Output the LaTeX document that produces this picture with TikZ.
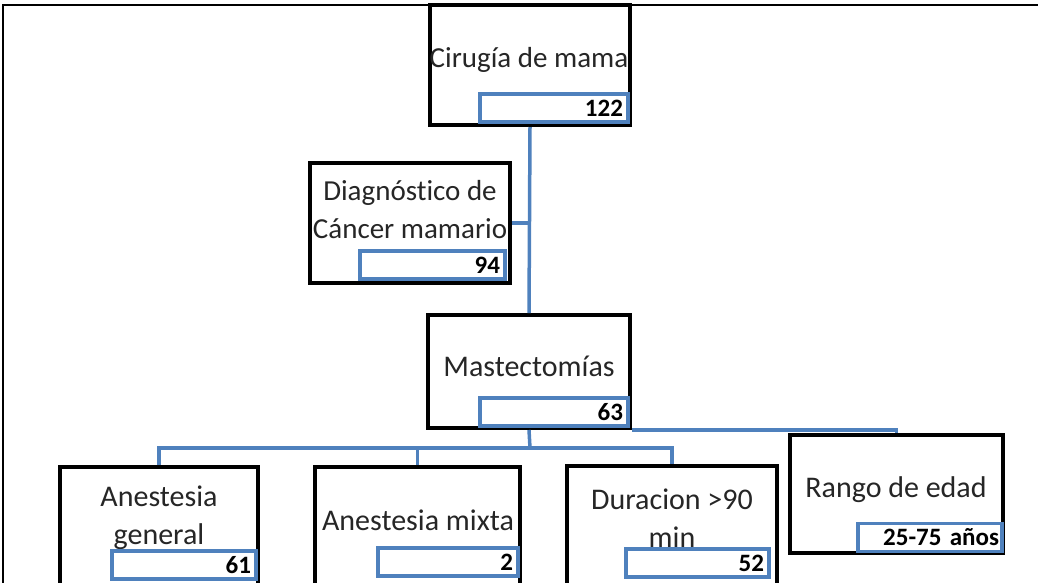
\documentclass[tikz,border=0pt]{standalone}
\usepackage{fontspec}
\setmainfont{Carlito}[Ligatures=NoCommon]
\definecolor{obl}{HTML}{4F81BD}
\begin{document}
\begin{tikzpicture}[x=1pt,y=-1pt,
  box/.style={draw=black,line width=4pt,fill=white,rectangle,inner sep=0pt},
  numbox/.style={draw=obl,line width=3.5pt,fill=white,rectangle,inner xsep=5pt,inner ysep=0pt,
     minimum height=28pt,align=right,font=\fontsize{25}{26}\selectfont\bfseries},
  lbl/.style={align=center,inner sep=0pt,font=\fontsize{30}{38}\selectfont,text=black!85},
  lbls/.style={lbl,font=\fontsize{29}{38}\selectfont},
  conn/.style={draw=obl,line width=3.5pt}]
\useasboundingbox (0,0) rectangle (1038,582);
\begin{scope}
\clip (0,0) rectangle (1038,582);
\draw[line width=2.5pt] (3,600) -- (3,5) -- (1045,5);
% boxes
\node[box,minimum width=200pt,minimum height=120pt] (top) at (530,65) {};
\node[box,minimum width=200pt,minimum height=120pt] (diag) at (410,223) {};
\node[box,minimum width=202pt,minimum height=113pt] (mast) at (529,371.5) {};
\node[box,minimum width=198pt,minimum height=140pt] (ag) at (159,537) {};
\node[box,minimum width=205pt,minimum height=140pt] (am) at (417.5,537) {};
\node[box,minimum width=210pt,minimum height=140pt] (dur) at (672,536) {};
\node[box,minimum width=213pt,minimum height=118pt] (rg) at (896.5,494) {};
\coordinate (bus) at (530,448);
% connectors
\draw[conn] (top.south) -- (mast.north);
\draw[conn] (diag.east) -- (diag.east -| top.south);
\draw[conn] (mast.south) -- (bus);
\draw[conn] (ag.north) |- (dur.north |- bus) -- (dur.north);
\draw[conn] (am.north) -- (am.north |- bus);
\draw[conn] (mast.south east) -| (rg.north);
% labels
\node[lbls] (tTop) at (529,60) {Cirugía de mama};
\node[lbls] (tDiag) at (410,210) {Diagnóstico de\\Cáncer mamario};
\node[lbl] (tMast) at (529,366) {Mastectomías};
\node[lbl] (tAg) at (159,518) {Anestesia\\general};
\node[lbl] (tAm) at (418,520) {Anestesia mixta};
\node[lbl] (tDur) at (672,518) {Duracion >90\\min};
\node[lbl] (tRg) at (896,490) {Rango de edad};
% numbers
\node[numbox,text width=138pt] (nTop) at (554,108) {122};
\node[numbox,text width=135pt] (nDiag) at (432.5,265) {94};
\node[numbox,text width=138pt] (nMast) at (554,412) {63};
\node[numbox,text width=134pt] (nAg) at (184,565) {61};
\node[numbox,text width=130pt] (nAm) at (448,562) {2};
\node[numbox,text width=133pt] (nDur) at (697.5,563) {52};
\node[numbox,text width=138pt,inner xsep=3pt,font=\fontsize{25}{26}\selectfont\bfseries] (nRg) at (930,537.5) {25-75 años};
\end{scope}
\end{tikzpicture}
\end{document}
